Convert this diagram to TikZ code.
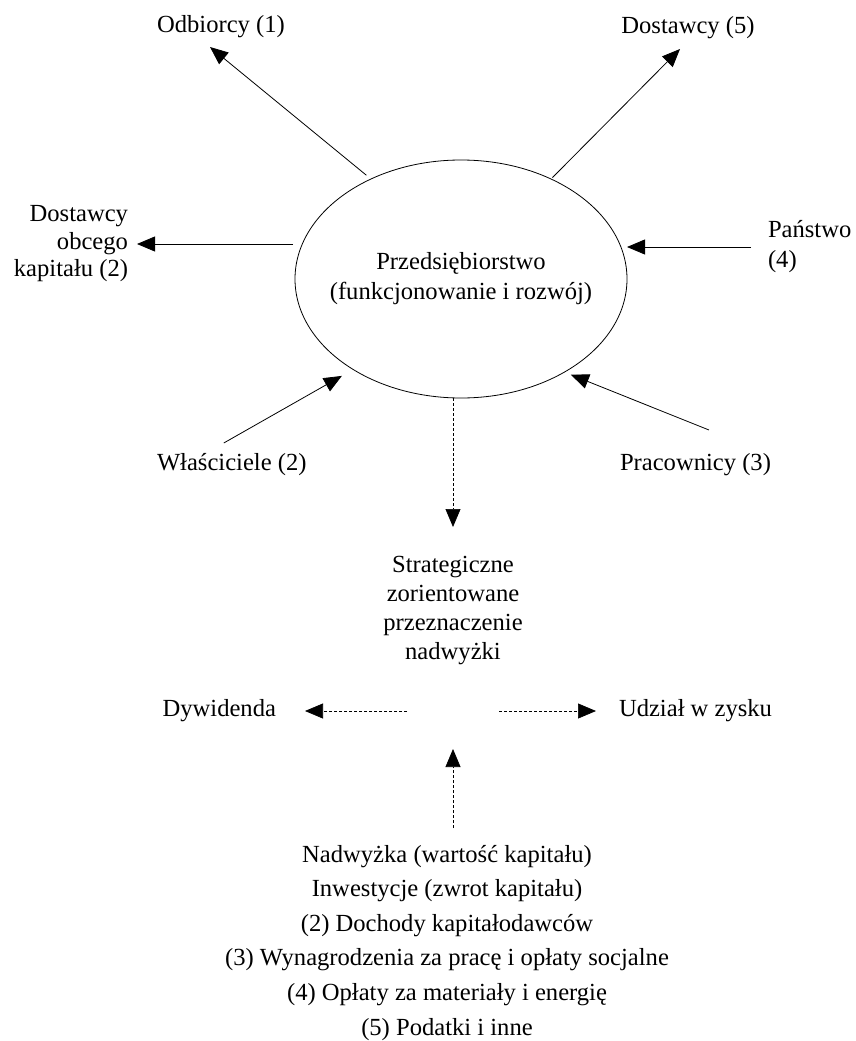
\documentclass[tikz,border=0pt]{standalone}
\usepackage{fontspec}
\setmainfont{Liberation Serif}
\usetikzlibrary{arrows.meta,calc,shapes.geometric}

\tikzset{
  lbl/.style={inner sep=0pt, outer sep=0pt, font=\fontsize{24.6}{29}\selectfont},
  arr/.style={-{Triangle[length=18pt,width=15pt]}, line width=0.8pt},
  darr/.style={arr, line width=0.7pt, dash pattern=on 3pt off 2pt},
}

\begin{document}
\begin{tikzpicture}[x=1pt,y=-1pt]
  \useasboundingbox (0,0) rectangle (855,1041);

  % Przedsiebiorstwo
  \node[draw, ellipse, inner sep=0pt, outer sep=0pt, line width=0.8pt,
        minimum width=332pt, minimum height=238pt] (firm) at (461,279) {};
  \node[lbl, align=center, font=\fontsize{24.6}{30}\selectfont] (firmtxt) at (firm.center)
        {Przedsiębiorstwo\\(funkcjonowanie i rozwój)};

  % Grupy interesariuszy
  \node[lbl] (odb) at (221,27) {Odbiorcy (1)};
  \node[lbl] (dost5) at (688,28) {Dostawcy (5)};
  \node[lbl, align=right, anchor=east, font=\fontsize{24.6}{27.5}\selectfont] (obcy) at (128,244)
        {Dostawcy\\obcego\\kapitału (2)};
  \node[lbl, align=left, anchor=west, font=\fontsize{24.6}{30}\selectfont] (panstwo) at (768,247)
        {Państwo\\(4)};
  \node[lbl, anchor=west] (wlasc) at (157,465) {Właściciele (2)};
  \node[lbl, anchor=west] (pracow) at (620,465) {Pracownicy (3)};

  % Podzial nadwyzki
  \node[lbl, align=center, anchor=north] (strat) at (453,556)
        {Strategiczne\\zorientowane\\przeznaczenie\\nadwyżki};
  \coordinate (split) at (453,711);
  \node[lbl, anchor=east] (dyw) at (276,711) {Dywidenda};
  \node[lbl, anchor=west] (udzial) at (619,711) {Udział w zysku};
  \node[lbl, align=center, anchor=north, font=\fontsize{24.6}{34.6}\selectfont] (nadw) at (447,845)
        {Nadwyżka (wartość kapitału)\\Inwestycje (zwrot kapitału)\\(2) Dochody kapitałodawców\\
         (3) Wynagrodzenia za pracę i opłaty socjalne\\(4) Opłaty za materiały i energię\\(5) Podatki i inne};

  % Strzalki
  \draw[arr, shorten <=6pt] (firm.132) -- ($(odb.center)+(-11,20)$);
  \draw[arr, shorten <=2pt] (firm.48) -- ($(dost5.center)+(-8,21)$);
  \draw[arr, shorten <=2pt, shorten >=9pt] (firm.west |- obcy.east) -- (obcy.east);
  \draw[arr, shorten <=17pt] (panstwo.west) -- (firm.east |- panstwo.west);
  \draw[arr, shorten >=13pt] ($(wlasc.center)+(-8,-22)$) -- (firm.220);
  \draw[arr, shorten >=7pt] ($(pracow.center)+(13.5,-35)$) -- (firm.-42);

  % Strzalki przerywane
  \draw[darr, shorten >=29pt] (strat.north |- firm.south) -- (strat.north);
  \draw[darr, shorten <=46pt, shorten >=29pt] (split) -- (dyw.east);
  \draw[darr, shorten <=46pt, shorten >=23pt] (split) -- (udzial.west);
  \draw[darr, shorten <=17pt, shorten >=38pt] (split |- nadw.north) -- (split);
\end{tikzpicture}
\end{document}
